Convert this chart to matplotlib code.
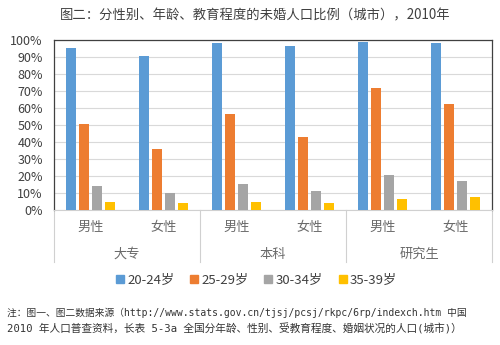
import numpy as np
import matplotlib
matplotlib.use("Agg")
import matplotlib.pyplot as plt
from matplotlib.patches import Patch

plt.rcParams['font.family'] = ['Noto Sans CJK SC', 'DejaVu Sans']

# unmarried share (%) by education / sex, urban, 2010
levels = ['大专', '本科', '研究生']
sexes = ['男性', '女性']
ages = ['20-24岁', '25-29岁', '30-34岁', '35-39岁']
a20_24 = [95.1, 90.6, 98.4, 96.7, 98.8, 98.2]
a25_29 = [50.6, 35.7, 56.3, 43.1, 71.6, 62.4]
a30_34 = [14.3, 9.8, 15.1, 11.0, 20.8, 17.1]
a35_39 = [4.9, 3.9, 4.7, 4.3, 6.7, 7.8]
colors = ['#5B9BD5', '#ED7D31', '#A5A5A5', '#FFC000']

series = [a20_24, a25_29, a30_34, a35_39]
n = len(a20_24)
x = np.arange(n)

fig = plt.figure(figsize=(5, 3.45), dpi=100)
ax = fig.add_axes([0.108, 0.391, 0.876, 0.493])

bw = 0.137
step = 0.18
for i, vals in enumerate(series):
    ax.bar(x + (i - 1.5) * step, vals, width=bw, color=colors[i], zorder=3)

ax.set_xlim(-0.5, n - 0.5)
ax.set_ylim(0, 100)
ax.set_yticks(np.arange(0, 101, 10))
ax.set_yticklabels([f'{v}%' for v in range(0, 101, 10)], fontsize=9, color='#404040')
ax.yaxis.grid(True, color='#d9d9d9', linewidth=0.8, zorder=0)
ax.tick_params(axis='y', length=0, pad=8)
ax.set_xticks([])
for s in ['left', 'top', 'right']:
    ax.spines[s].set_color('#404040')
    ax.spines[s].set_linewidth(0.9)
ax.spines['bottom'].set_color('#d0d0d0')

# category labels and group separators under the axis
for k in range(n):
    ax.text(k, -0.1, sexes[k % 2], transform=ax.get_xaxis_transform(),
            ha='center', va='center', fontsize=9.5, color='#6a6a6a')
for g, name in enumerate(levels):
    ax.text(2 * g + 0.5, -0.26, name, transform=ax.get_xaxis_transform(),
            ha='center', va='center', fontsize=9.5, color='#6a6a6a')
for b in [-0.5, 1.5, 3.5, 5.5]:
    ax.plot([b, b], [0, -0.306], transform=ax.get_xaxis_transform(),
            color='#d0d0d0', linewidth=0.8, clip_on=False)

handles = [Patch(color=c) for c in colors]
fig.legend(handles, ages, loc='center', bbox_to_anchor=(0.513, 0.188), ncol=4,
           frameon=False, fontsize=9.5, handlelength=0.6, handleheight=0.6,
           handletextpad=0.25, columnspacing=1.2, labelcolor='#404040')

fig.text(0.51, 0.956, '图二：分性别、年龄、教育程度的未婚人口比例（城市），2010年',
         ha='center', va='center', fontsize=9.6, color='#404040',
         family=['Noto Sans CJK SC', 'DejaVu Sans'])

note_font = ['DejaVu Sans Mono', 'Noto Sans CJK SC']
fig.text(0.014, 0.093, '注：图一、图二数据来源（http://www.stats.gov.cn/tjsj/pcsj/rkpc/6rp/indexch.htm 中国',
         ha='left', va='center', fontsize=7.0, color='#333333', family=note_font)
fig.text(0.014, 0.046, '2010 年人口普查资料，长表 5-3a 全国分年龄、性别、受教育程度、婚姻状况的人口(城市)）',
         ha='left', va='center', fontsize=7.7, color='#333333', family=note_font)

fig.savefig('out.png', dpi=100, facecolor='white')
